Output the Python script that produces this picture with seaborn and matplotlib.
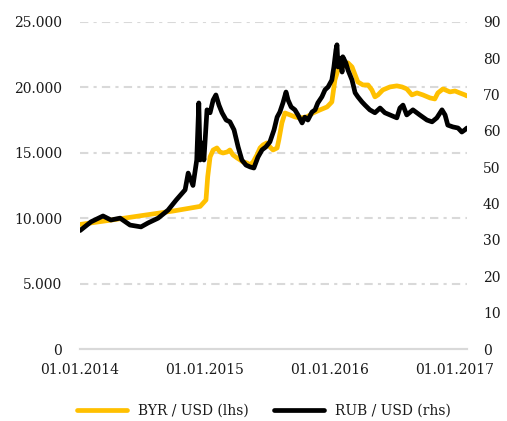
import matplotlib
matplotlib.use("Agg")
import matplotlib.pyplot as plt
import matplotlib.dates as mdates
import matplotlib.ticker as mticker
import seaborn as sns
import pandas as pd

# BYR / USD (left axis)
byr_dates = [
    "2014-01-01", "2014-04-01", "2014-07-01", "2014-10-01", "2014-12-18",
    "2015-01-04", "2015-01-09", "2015-01-16", "2015-01-25", "2015-02-05",
    "2015-02-14", "2015-02-23", "2015-03-07", "2015-03-15", "2015-03-24",
    "2015-04-05", "2015-04-14", "2015-04-22", "2015-05-04", "2015-05-13",
    "2015-05-22", "2015-06-02", "2015-06-11", "2015-06-20", "2015-07-01",
    "2015-07-10", "2015-07-19", "2015-07-31", "2015-08-05", "2015-08-14",
    "2015-08-23", "2015-09-07", "2015-09-21", "2015-10-06", "2015-10-26",
    "2015-11-13", "2015-12-03", "2015-12-24", "2016-01-07", "2016-01-16",
    "2016-01-25", "2016-02-08", "2016-02-23", "2016-03-06", "2016-03-15",
    "2016-03-23", "2016-04-07", "2016-04-22", "2016-05-03", "2016-05-12",
    "2016-05-21", "2016-06-04", "2016-06-25", "2016-07-15", "2016-07-30",
    "2016-08-13", "2016-08-28", "2016-09-12", "2016-09-29", "2016-10-20",
    "2016-11-03", "2016-11-12", "2016-11-27", "2016-12-17", "2017-01-01",
    "2017-01-15", "2017-01-30", "2017-02-05",
]
byr_values = [
    9520, 9850, 10200, 10550, 10900,
    11390, 13150, 14680, 15210, 15366,
    15060, 14980, 15060, 15210, 14830,
    14600, 14450, 14300, 14220, 14070,
    14300, 14830, 15366, 15600, 15750,
    15440, 15210, 15366, 15980, 17280,
    18040, 17890, 17740, 17660, 17740,
    18040, 18270, 18500, 18880, 20565,
    21330, 21560, 21870, 21560, 20950,
    20410, 20180, 20180, 19800, 19270,
    19420, 19800, 20030, 20110, 20030,
    19880, 19420, 19570, 19420, 19190,
    19110, 19570, 19880, 19650, 19720,
    19570, 19420, 19340,
]

# RUB / USD (right axis)
rub_dates = [
    "2014-01-01", "2014-02-02", "2014-03-09", "2014-04-01", "2014-04-28",
    "2014-05-27", "2014-06-28", "2014-07-19", "2014-08-17", "2014-09-15",
    "2014-10-09", "2014-11-04", "2014-11-13", "2014-11-27", "2014-12-08",
    "2014-12-14", "2014-12-18", "2014-12-23", "2014-12-29", "2015-01-07",
    "2015-01-16", "2015-01-25", "2015-02-02", "2015-02-11", "2015-02-20",
    "2015-03-04", "2015-03-15", "2015-03-27", "2015-04-08", "2015-04-19",
    "2015-05-01", "2015-05-13", "2015-05-24", "2015-06-05", "2015-06-17",
    "2015-06-28", "2015-07-10", "2015-07-22", "2015-07-31", "2015-08-08",
    "2015-08-17", "2015-08-26", "2015-09-01", "2015-09-10", "2015-09-21",
    "2015-09-30", "2015-10-12", "2015-10-20", "2015-10-29", "2015-11-10",
    "2015-11-19", "2015-11-27", "2015-12-09", "2015-12-18", "2015-12-27",
    "2016-01-07", "2016-01-13", "2016-01-19", "2016-01-22", "2016-01-25",
    "2016-01-31", "2016-02-06", "2016-02-08", "2016-02-17", "2016-02-23",
    "2016-03-06", "2016-03-15", "2016-03-23", "2016-04-04", "2016-04-13",
    "2016-04-27", "2016-05-12", "2016-05-27", "2016-06-10", "2016-06-25",
    "2016-07-15", "2016-07-24", "2016-08-02", "2016-08-13", "2016-08-31",
    "2016-09-20", "2016-10-11", "2016-10-26", "2016-11-09", "2016-11-24",
    "2016-12-03", "2016-12-11", "2016-12-26", "2017-01-10", "2017-01-21",
    "2017-01-30", "2017-02-05",
]
rub_values = [
    32.6, 35.0, 36.6, 35.5, 36.0,
    34.1, 33.6, 34.7, 36.0, 38.2,
    41.0, 43.8, 48.4, 45.0, 52.0,
    67.7, 52.0, 56.7, 52.0, 65.8,
    65.0, 68.5, 69.9, 67.1, 65.0,
    63.0, 62.5, 60.3, 55.6, 52.0,
    50.6, 50.1, 49.8, 52.8, 54.8,
    55.6, 57.0, 60.3, 63.8, 65.2,
    67.7, 70.7, 68.5, 66.6, 65.8,
    64.4, 62.2, 63.8, 63.0, 65.2,
    65.8, 67.7, 69.4, 71.3, 72.1,
    74.0, 77.6, 82.3, 83.7, 77.6,
    80.0, 76.2, 80.4, 78.7, 76.8,
    74.0, 70.5, 69.4, 68.0, 67.1,
    65.8, 65.0, 66.3, 65.0, 64.4,
    63.6, 66.3, 67.1, 64.4, 65.8,
    64.4, 63.0, 62.5, 63.6, 65.8,
    64.4, 61.6, 61.1, 60.8, 59.7,
    60.3, 60.8,
]

x_ticks = ["2014-01-01", "2015-01-01", "2016-01-01", "2017-01-01"]
left_ticks = [0, 5000, 10000, 15000, 20000, 25000]
right_ticks = [0, 10, 20, 30, 40, 50, 60, 70, 80, 90]

byr = pd.DataFrame({"date": pd.to_datetime(byr_dates), "value": byr_values})
rub = pd.DataFrame({"date": pd.to_datetime(rub_dates), "value": rub_values})

sns.set_theme(style="white")
plt.rcParams["font.family"] = ["DejaVu Serif"]

fig, ax = plt.subplots(figsize=(5.07, 4.21), dpi=100)
fig.subplots_adjust(left=0.158, right=0.921, bottom=0.171, top=0.948)

yellow = "#FFC000"
grid_color = "#d9d9d9"
text_color = "#1a1a1a"

sns.lineplot(data=byr, x="date", y="value", ax=ax, color=yellow, linewidth=3.4,
             label="BYR / USD (lhs)", legend=False)
ax.set_ylim(0, 25000)
ax.set_yticks(left_ticks)
ax.yaxis.set_major_formatter(mticker.FuncFormatter(lambda v, p: f"{int(v):,}".replace(",", ".")))
for t in left_ticks[1:]:
    ax.axhline(t, color=grid_color, linewidth=1.5, linestyle=(0, (4, 2.5, 1.5, 2.5)), zorder=0)

ax2 = ax.twinx()
sns.lineplot(data=rub, x="date", y="value", ax=ax2, color="black", linewidth=3.4,
             label="RUB / USD (rhs)", legend=False)
ax2.set_ylim(0, 90)
ax2.set_yticks(right_ticks)

ax.set_xlim(pd.Timestamp("2014-01-01"), pd.Timestamp("2017-02-05"))
ax.set_xticks(pd.to_datetime(x_ticks))
ax.xaxis.set_major_formatter(mdates.DateFormatter("%d.%m.%Y"))

for a in (ax, ax2):
    a.set_xlabel("")
    a.set_ylabel("")
    for side in ("top", "left", "right"):
        a.spines[side].set_visible(False)
    a.spines["bottom"].set_color(grid_color)
    a.spines["bottom"].set_linewidth(1.5)
    a.tick_params(axis="both", length=0, labelsize=10, colors=text_color)
ax.tick_params(axis="y", pad=13)
ax.tick_params(axis="x", pad=10)
ax2.tick_params(axis="y", pad=11.5)

h1, l1 = ax.get_legend_handles_labels()
h2, l2 = ax2.get_legend_handles_labels()
leg = fig.legend(h1 + h2, l1 + l2, loc="lower center", bbox_to_anchor=(0.52, -0.022), ncol=2,
                 frameon=False, fontsize=10, handlelength=3.6, columnspacing=1.8)
for txt in leg.get_texts():
    txt.set_color(text_color)

fig.savefig("out.png", dpi=100)
